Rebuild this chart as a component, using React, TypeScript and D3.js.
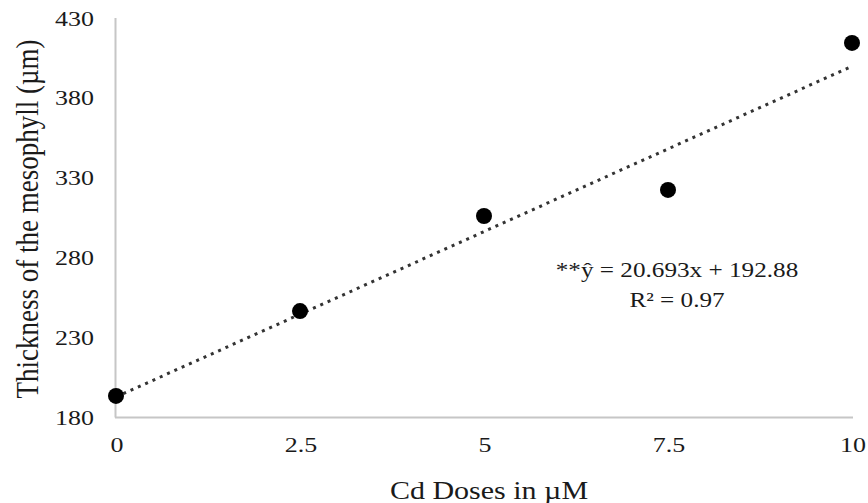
import React from "react";
import * as d3 from "d3";

const doses = [0, 2.5, 5, 7.5, 10];
const thickness = [193.5, 246.6, 306.1, 322.4, 414.4];
const xTicks = [0, 2.5, 5, 7.5, 10];
const xTickLabels = ["0", "2.5", "5", "7.5", "10"];
const yTicks = [180, 230, 280, 330, 380, 430];
const slope = 20.693;
const intercept = 192.88;
const eqLine1 = "**ŷ = 20.693x + 192.88";
const eqLine2 = "R² = 0.97";
const xTitle = "Cd Doses in µM";
const yTitle = "Thickness of the mesophyll (µm)";

const W = 868;
const H = 503;
const FONT = "'Liberation Serif', 'Times New Roman', serif";
const SX = 1.18;

export default function App() {
  const x = d3.scaleLinear().domain([0, 10]).range([116, 852]);
  const y = d3.scaleLinear().domain([180, 430]).range([417.5, 18]);
  const trend = d3
    .line<number>()
    .x((d) => x(d))
    .y((d) => y(slope * d + intercept));

  return (
    <svg
      width={W}
      height={H}
      style={{ position: "absolute", left: 0, top: 0, background: "#fff" }}
    >
      <rect width={W} height={H} fill="#fff" />
      {/* axes */}
      <line x1={x(0) - 0.5} x2={x(0) - 0.5} y1={y(430)} y2={y(180)} stroke="#c6c6c6" strokeWidth={2} />
      <line x1={x(0) - 1} x2={x(10) + 1} y1={y(180)} y2={y(180)} stroke="#c6c6c6" strokeWidth={2} />
      {/* y tick labels */}
      {yTicks.map((t) => (
        <text
          key={"y" + t}
          transform={`translate(94,${y(t) + 7.5}) scale(${SX},1)`}
          textAnchor="end"
          fontFamily={FONT}
          fontSize={22}
          fill="#1a1a1a"
        >
          {t}
        </text>
      ))}
      {/* x tick labels */}
      {xTicks.map((t, i) => (
        <text
          key={"x" + t}
          transform={`translate(${x(t) + 1},452) scale(${SX},1)`}
          textAnchor="middle"
          fontFamily={FONT}
          fontSize={22}
          fill="#1a1a1a"
        >
          {xTickLabels[i]}
        </text>
      ))}
      {/* trendline */}
      <path
        d={trend([0, 10]) || ""}
        fill="none"
        stroke="#333"
        strokeWidth={3}
        strokeDasharray="3 5"
      />
      {/* points */}
      {doses.map((d, i) => (
        <circle key={"p" + i} cx={x(d)} cy={y(thickness[i])} r={8} fill="#000" />
      ))}
      {/* equation */}
      <text
        transform={`translate(677,277) scale(1.2,1)`}
        textAnchor="middle"
        fontFamily={FONT}
        fontSize={21}
        fill="#1a1a1a"
      >
        {eqLine1}
      </text>
      <text
        transform={`translate(677,307) scale(1.2,1)`}
        textAnchor="middle"
        fontFamily={FONT}
        fontSize={21}
        fill="#1a1a1a"
      >
        {eqLine2}
      </text>
      {/* axis titles */}
      <text
        transform={`translate(489,499) scale(1.2,1)`}
        textAnchor="middle"
        fontFamily={FONT}
        fontSize={25}
        fill="#1a1a1a"
      >
        {xTitle}
      </text>
      <text
        transform={`translate(38,219) rotate(-90) scale(1,1.2)`}
        textAnchor="middle"
        fontFamily={FONT}
        fontSize={27}
        fill="#1a1a1a"
      >
        {yTitle}
      </text>
    </svg>
  );
}
